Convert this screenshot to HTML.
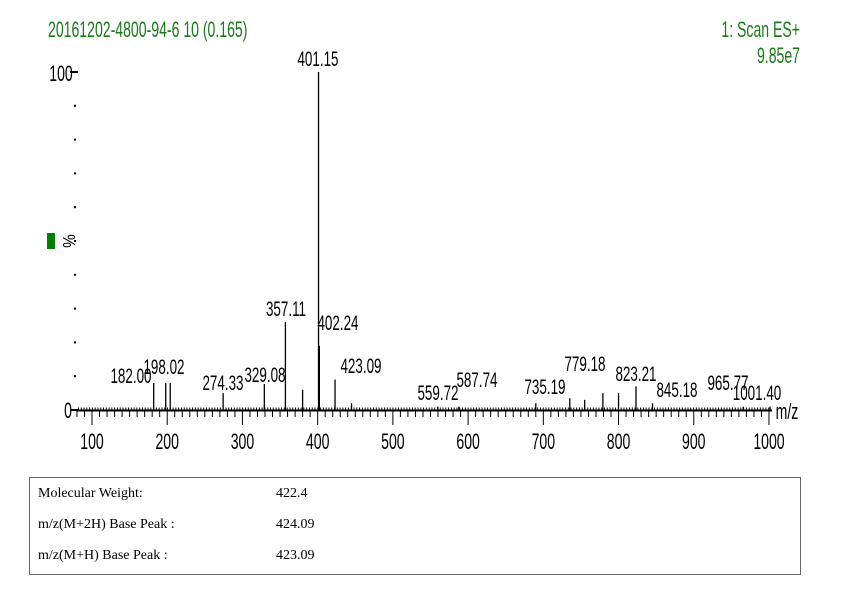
<!DOCTYPE html>
<html><head><meta charset="utf-8"><style>
html,body{margin:0;padding:0;background:#fff;}
svg{display:block;font-family:"Liberation Sans",sans-serif;}
</style></head><body>
<svg id="chart" width="859" height="603" viewBox="0 0 859 603">
<g id="marks"></g>
<rect x="29.5" y="477.5" width="771" height="97" fill="none" stroke="#666"/>
<text x="38" y="497" font-family="Liberation Serif,serif" font-size="14">Molecular Weight:</text>
<text x="276" y="497" font-family="Liberation Serif,serif" font-size="14">422.4</text>
<text x="38" y="528" font-family="Liberation Serif,serif" font-size="14">m/z(M+2H) Base Peak :</text>
<text x="276" y="528" font-family="Liberation Serif,serif" font-size="14">424.09</text>
<text x="38" y="559" font-family="Liberation Serif,serif" font-size="14">m/z(M+H) Base Peak :</text>
<text x="276" y="559" font-family="Liberation Serif,serif" font-size="14">423.09</text>
</svg>
<script>
const peakMz=[401.15,357.11,402.24,182.00,198.02,204,274.33,329.08,380,423.09,445,559.72,587.74,690,735.19,755,779.18,800,823.21,845.18,965.77,1001.40];
const peakInt=[100,26,19,8,8,8,5,7.7,6,9,2,1,1,2,3.5,3,5,5,7,2,1,1];
const labelMz=["401.15","357.11","402.24","182.00","198.02","274.33","329.08","423.09","559.72","587.74","735.19","779.18","823.21","845.18","965.77","1001.40"];
const xTicks=[100,200,300,400,500,600,700,800,900,1000];
const NS="http://www.w3.org/2000/svg";
const x=m=>92+(m-100)*0.7522;
const y=v=>410-v*3.38;
const marks=document.getElementById('marks');
function el(t,a,p){const e=document.createElementNS(NS,t);for(const k in a)e.setAttribute(k,a[k]);(p||marks).appendChild(e);return e;}
function ctext(s,cx,by,anchor,color,name,size){
  const g=el('g',{transform:`translate(${cx},${by}) scale(0.64,1)`});
  
  
  const t=el('text',{x:0,y:0,'font-size':size||21,fill:color||'#000','text-anchor':anchor||'middle'},g);
  t.textContent=s;return g;
}
const base=el('line',{x1:77,y1:410.5,x2:772,y2:410.5,stroke:'#000','stroke-width':2});


for(let m=80;m<=1000;m+=10){
  const major=m%100===0;
  const tk=el('line',{x1:x(m),y1:411,x2:x(m),y2:major?425:417,stroke:'#000','stroke-width':1});
  
  
}
xTicks.forEach(v=>ctext(String(v),x(v),449,'middle','#000','x-tick-label',22));
ctext('m/z',787,419,'middle','#000','x-axis-title',22);
for(let v=10;v<100;v+=10){
  const d=el('rect',{x:74,y:y(v)-1,width:2,height:2,fill:'#000'});
  
  
}
el('rect',{x:70,y:71,width:8,height:2,fill:'#000'});
el('rect',{x:70,y:409,width:8,height:2,fill:'#000'});
ctext('100',61,81,'middle','#000','y-label-100',22);
ctext('0',68,418,'middle','#000','y-label-0',22);
const pct=el('g',{transform:'translate(63,241) rotate(90) scale(0.85,1)'});

el('text',{x:0,y:0,'font-size':18,'text-anchor':'middle'},pct).textContent='%';
const gr=el('rect',{x:47,y:233,width:8,height:16,fill:'#008000'});


ctext('20161202-4800-94-6 10 (0.165)',48,37,'start','#1a7a1a','title',22);
ctext('1: Scan ES+',800,37,'end','#1a7a1a','scan-label',22);
ctext('9.85e7',800,63,'end','#1a7a1a','intensity-label',22);
for(let m=82;m<=1003;m+=3.7){
  const n=el('line',{x1:x(m),y1:410,x2:x(m),y2:407.5,stroke:'#000','stroke-width':1});
  
  
}
peakMz.forEach((m,i)=>{
  const l=el('line',{x1:x(m),y1:410,x2:x(m),y2:y(peakInt[i]),stroke:'#000','stroke-width':1.3});
  
  
});
const labPos={"401.15":[318,66],"357.11":[286,316],"402.24":[338,330],"182.00":[131,383],"198.02":[164,374],"274.33":[223,390],"329.08":[265,382],"423.09":[361,373],"559.72":[438,400],"587.74":[477,387],"735.19":[545,394],"779.18":[585,371],"823.21":[636,381],"845.18":[677,397],"965.77":[728,390],"1001.40":[757,400]};
labelMz.forEach(s=>{const p=labPos[s];ctext(s,p[0],p[1],'middle','#000','peak-label-'+s,21);});
</script>
</body></html>
